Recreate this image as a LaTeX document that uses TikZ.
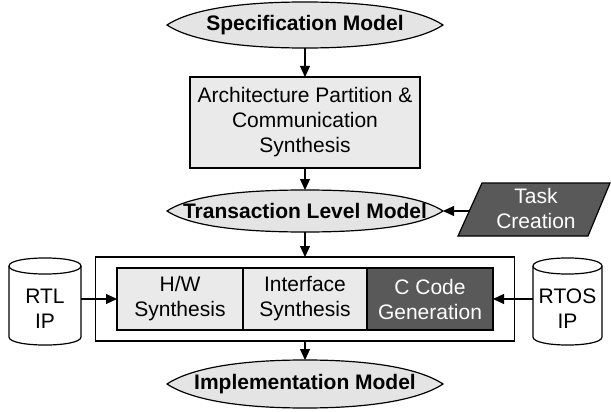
\documentclass[tikz,border=0pt]{standalone}
\usepackage{fontspec}
\setmainfont{Liberation Sans}
\usetikzlibrary{arrows.meta,backgrounds}
\definecolor{lensfill}{HTML}{E4E4E4}
\definecolor{boxfill}{HTML}{EAEAEA}
\definecolor{darkfill}{HTML}{595959}
% pointed, lens-like outline around a named node
\newcommand\lensoutline[1]{%
  \draw[lensline] (#1.west) .. controls +(18,-12) and +(-80,0) .. (#1.north)
    .. controls +(80,0) and +(-18,-12) .. (#1.east)
    .. controls +(-18,12) and +(80,0) .. (#1.south)
    .. controls +(-80,0) and +(18,12) .. (#1.west) -- cycle;}
\begin{document}
\begin{tikzpicture}[x=1pt,y=-1pt,
  font=\fontsize{21}{25}\selectfont, line width=1.2pt,
  lens/.style={inner sep=0pt, outer sep=0pt, minimum width=276pt,
    font=\fontsize{21}{25}\selectfont\bfseries},
  lensline/.style={draw=black, fill=lensfill, line width=1.2pt},
  procbox/.style={draw, fill=boxfill, inner sep=0pt, outer sep=0pt, align=center},
  darkbox/.style={procbox, fill=darkfill, text=white},
  arr/.style={-{Triangle[length=11pt,width=10pt]}},
]
\useasboundingbox (0,0) rectangle (611,412);

% models
\node[lens, minimum height=46pt] (spec) at (305,25) {Specification Model};
\node[procbox, minimum width=230pt, minimum height=91pt] (arch) at (305,122.5)
  {Architecture Partition \&\\Communication\\Synthesis};
\node[lens, minimum height=42pt] (tlm) at (305,211) {Transaction Level Model};

% task creation
\draw[fill=darkfill] (458,236) -- (482,183) -- (610,183) -- (588,236) -- cycle;
\node[align=center, text=white] (task) at (536,208) {Task\\Creation};
\coordinate (taskport) at (470,211);

% synthesis block
\node[draw, fill=white, inner sep=0pt, outer sep=0pt,
  minimum width=419pt, minimum height=84pt] (synth) at (305,299) {};
\node[procbox, minimum width=126pt, minimum height=62pt] (hw) at (180,299)
  {H/W\\Synthesis};
\node[procbox, minimum width=124pt, minimum height=62pt] (iface) at (305,299)
  {Interface\\Synthesis};
\node[darkbox, minimum width=126pt, minimum height=62pt] (ccode) at (430,299)
  {C Code\\Generation};

% IP libraries
\draw[fill=white] (9,266) -- (9,337) .. controls (9,347.7) and (81,347.7) .. (81,337)
  -- (81,266) .. controls (81,255.3) and (9,255.3) .. (9,266) -- cycle;
\draw (9,266) .. controls (9,276.7) and (81,276.7) .. (81,266);
\node[align=center] (rtl) at (45,309) {RTL\\IP};
\coordinate (rtlport) at (81,299);

\draw[fill=white] (533,266) -- (533,337) .. controls (533,347.7) and (602,347.7) .. (602,337)
  -- (602,266) .. controls (602,255.3) and (533,255.3) .. (533,266) -- cycle;
\draw (533,266) .. controls (533,276.7) and (602,276.7) .. (602,266);
\node[align=center] (rtos) at (567.5,309) {RTOS\\IP};
\coordinate (rtosport) at (533,299);

\node[lens, minimum height=48pt] (impl) at (305,384) {Implementation Model};

\begin{scope}[on background layer]
  \lensoutline{spec}
  \lensoutline{tlm}
  \lensoutline{impl}
\end{scope}

% connectors
\draw[arr] (spec) -- (arch);
\draw[arr] (arch) -- (tlm);
\draw[arr] (taskport) -- (tlm.east);
\draw[arr] (tlm) -- (synth);
\draw[arr] (synth) -- (impl);
\draw[arr] (rtlport) -- (hw);
\draw[arr] (rtosport) -- (ccode);
\end{tikzpicture}
\end{document}
